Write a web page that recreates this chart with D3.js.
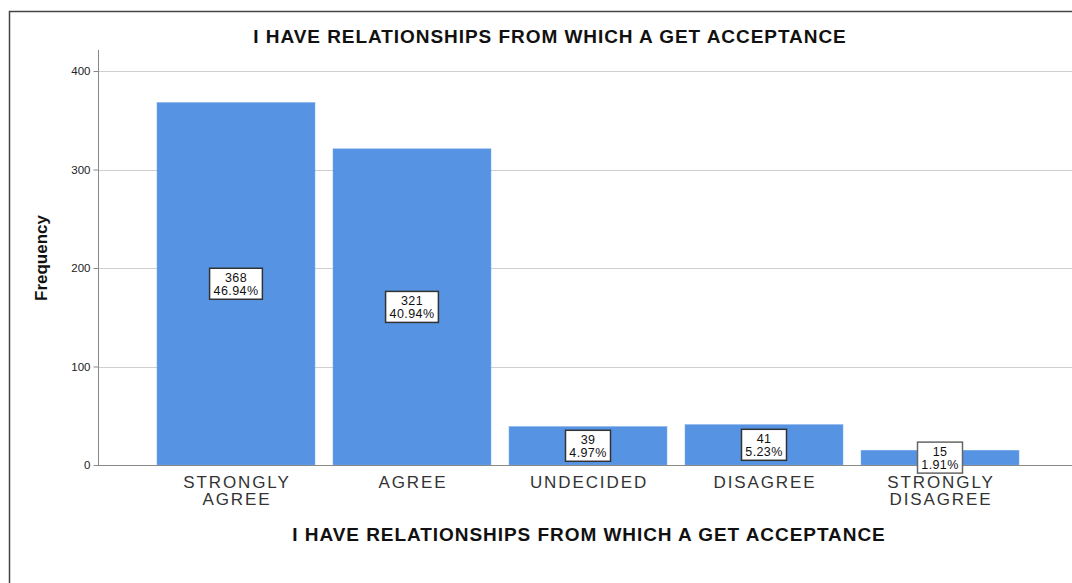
<!DOCTYPE html>
<html>
<head>
<meta charset="utf-8">
<script src="https://cdn.jsdelivr.net/npm/d3@7"></script>
<style>
	body { margin: 0; background: #fff; }
	svg { display: block; font-family: Arial, "Liberation Sans", sans-serif; }
</style>
</head>
<body>
<div id="chart"></div>
<script>
// Data
const categories = ["STRONGLY AGREE", "AGREE", "UNDECIDED", "DISAGREE", "STRONGLY DISAGREE"];
const categoryLines = [["STRONGLY", "AGREE"], ["AGREE"], ["UNDECIDED"], ["DISAGREE"], ["STRONGLY", "DISAGREE"]];
const counts = [368, 321, 39, 41, 15];
const percents = ["46.94%", "40.94%", "4.97%", "5.23%", "1.91%"];
const yTicks = [0, 100, 200, 300, 400];

const title = "I HAVE RELATIONSHIPS FROM WHICH A GET ACCEPTANCE";

const W = 1072, H = 583;

const svg = d3.select("#chart").append("svg")
	.attr("width", W)
	.attr("height", H);

// outer frame
svg.append("path")
	.attr("d", "M9.5," + H + "V11.5H" + W)
	.attr("fill", "none")
	.attr("stroke", "#444")
	.attr("stroke-width", 1.5);

// Scales
const x = d3.scaleBand()
	.domain(categories)
	.range([148, 1028])
	.paddingInner(0.1023)
	.paddingOuter(0.0511);

const y = d3.scaleLinear()
	.domain([0, 400])
	.range([465, 71]);

// Grid lines
svg.append("g")
	.selectAll("line")
	.data(yTicks.filter(d => d > 0))
	.join("line")
		.attr("x1", 99)
		.attr("x2", W)
		.attr("y1", d => Math.round(y(d)) + 0.5)
		.attr("y2", d => Math.round(y(d)) + 0.5)
		.attr("stroke", "#cfcfcf")
		.attr("stroke-width", 1);

// Bars
svg.append("g")
	.selectAll("rect")
	.data(counts)
	.join("rect")
		.attr("x", (d, i) => x(categories[i]))
		.attr("y", d => y(d))
		.attr("width", x.bandwidth())
		.attr("height", d => y(0) - y(d))
		.attr("fill", "#5694e3")
		.attr("stroke", "#7aaaea")
		.attr("stroke-width", 0.5);

// Axes
const yAxis = d3.axisLeft(y).tickValues(yTicks).tickSize(5).tickPadding(3);
const gy = svg.append("g")
	.attr("transform", "translate(98.5,0)")
	.call(yAxis);
gy.select(".domain").attr("d", "M0,50V465.5").attr("stroke", "#888");
gy.selectAll(".tick line").attr("stroke", "#888");
gy.selectAll(".tick text")
	.attr("fill", "#222")
	.style("font-size", "11.5px");

svg.append("line")
	.attr("x1", 98)
	.attr("x2", W)
	.attr("y1", 465.5)
	.attr("y2", 465.5)
	.attr("stroke", "#888")
	.attr("stroke-width", 1.2);

// Category labels
const catG = svg.append("g")
	.selectAll("text")
	.data(categoryLines)
	.join("text")
		.attr("x", (d, i) => x(categories[i]) + x.bandwidth() / 2 + 1)
		.attr("y", 488)
		.attr("text-anchor", "middle")
		.attr("fill", "#333")
		.style("font-size", "17px")
		.style("letter-spacing", "1.9px");
catG.selectAll("tspan")
	.data(d => d)
	.join("tspan")
		.attr("x", function() { return d3.select(this.parentNode).attr("x"); })
		.attr("dy", (d, i) => i === 0 ? 0 : 17)
		.text(d => d);

// Value labels
const lab = svg.append("g")
	.selectAll("g")
	.data(counts)
	.join("g")
		.attr("transform", (d, i) => "translate(" + (x(categories[i]) + x.bandwidth() / 2) + "," + ((y(d) + y(0)) / 2) + ")");

lab.append("rect")
	.attr("x", (d, i) => -(percents[i].length * 7.8 + 6) / 2)
	.attr("y", -15.5)
	.attr("width", (d, i) => percents[i].length * 7.8 + 6)
	.attr("height", 31)
	.attr("fill", "#fff")
	.attr("stroke", (d, i) => i === 4 ? "#666" : "#333")
	.attr("stroke-width", 1.5);

lab.append("text")
	.attr("text-anchor", "middle")
	.attr("y", -1.5)
	.attr("fill", "#111")
	.style("font-size", "12.5px")
	.style("letter-spacing", "0.4px")
	.text(d => d);

lab.append("text")
	.attr("text-anchor", "middle")
	.attr("y", 11)
	.attr("fill", "#111")
	.style("font-size", "12.5px")
	.style("letter-spacing", "0.4px")
	.text((d, i) => percents[i]);

// Titles
svg.append("text")
	.attr("x", 550)
	.attr("y", 43)
	.attr("text-anchor", "middle")
	.style("font-weight", 700)
	.style("font-size", "19px")
	.style("letter-spacing", "0.95px")
	.attr("fill", "#111")
	.text(title);

svg.append("text")
	.attr("x", 589)
	.attr("y", 541)
	.attr("text-anchor", "middle")
	.style("font-weight", 700)
	.style("font-size", "19px")
	.style("letter-spacing", "0.95px")
	.attr("fill", "#111")
	.text(title);

svg.append("text")
	.attr("transform", "translate(47,258) rotate(-90)")
	.attr("text-anchor", "middle")
	.style("font-weight", 700)
	.style("font-size", "17px")
	.attr("fill", "#111")
	.text("Frequency");
</script>
</body>
</html>
